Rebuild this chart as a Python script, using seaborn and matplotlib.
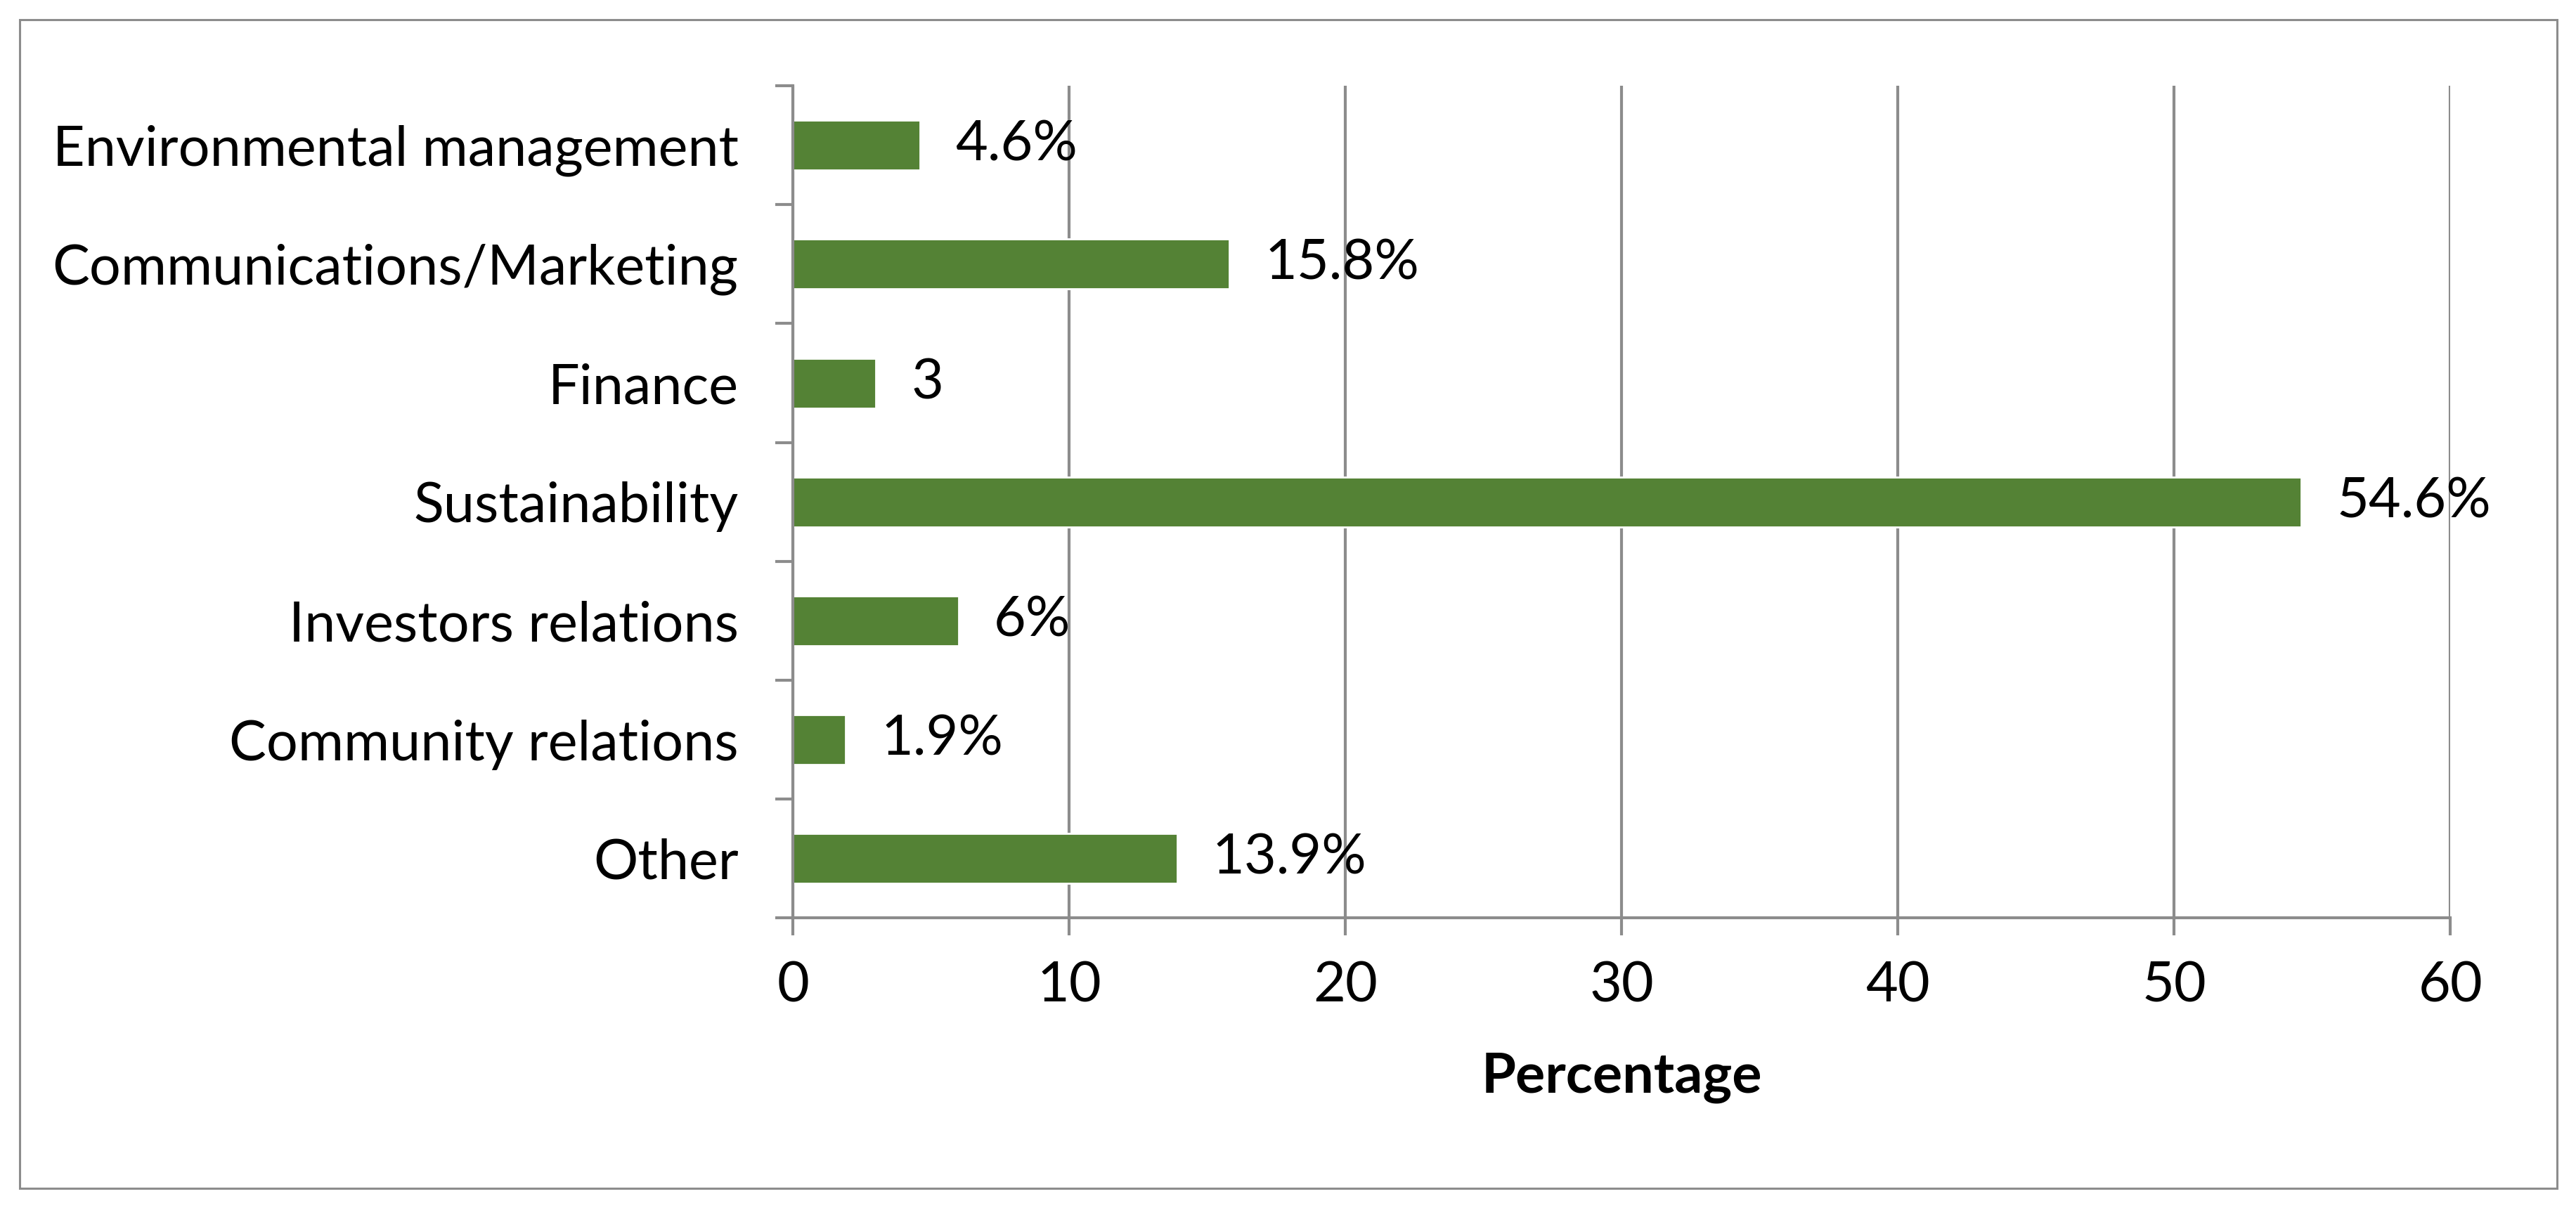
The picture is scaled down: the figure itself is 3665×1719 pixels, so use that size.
import matplotlib
matplotlib.use("Agg")
import matplotlib.pyplot as plt
import seaborn as sns
import pandas as pd
import numpy as np
from matplotlib.patches import Rectangle

# chart data
categories = [
    "Environmental management",
    "Communications/Marketing",
    "Finance",
    "Sustainability",
    "Investors relations",
    "Community relations",
    "Other",
]
values = [4.6, 15.8, 3, 54.6, 6, 1.9, 13.9]
value_labels = ["4.6%", "15.8%", "3", "54.6%", "6%", "1.9%", "13.9%"]
x_ticks = [0, 10, 20, 30, 40, 50, 60]

GRAY = "#8c8c8c"
GREEN = "#548235"
FS = 28.5

sns.set_theme(style="white")
plt.rcParams['font.family'] = ['Lato', 'DejaVu Sans']

df = pd.DataFrame({"Category": categories, "Percentage": values})

fig = plt.figure(figsize=(18.33, 8.595), dpi=200)
ax = fig.add_axes([0.3078, 0.240, 0.951 - 0.3078, 0.929 - 0.240])

sns.barplot(data=df, x="Percentage", y="Category", orient="h",
            color=GREEN, saturation=1, width=0.42, ax=ax)

ax.set_xlim(0, 60)
ax.set_xticks(x_ticks)
ax.grid(axis='x', color=GRAY, lw=1.5)
ax.grid(axis='y', visible=False)
ax.set_axisbelow(True)

for side in ['top', 'right']:
    ax.spines[side].set_visible(False)
for side in ['left', 'bottom']:
    ax.spines[side].set_color(GRAY)
    ax.spines[side].set_linewidth(1.5)

# Excel style ticks between categories
ax.set_yticks(np.arange(-0.5, len(categories), 1), minor=True)
ax.tick_params(axis='y', which='major', length=0, pad=28, labelsize=FS, labelcolor='black')
ax.tick_params(axis='y', which='minor', left=True, length=9, width=1.5, color=GRAY)
ax.tick_params(axis='x', which='major', bottom=True, length=9, width=1.5, color=GRAY,
               pad=13, labelsize=FS, labelcolor='black')

ax.set_ylabel("")
ax.set_xlabel("Percentage", fontsize=FS, fontweight='bold', labelpad=21, color='black')

ax.bar_label(ax.containers[0], labels=value_labels, padding=18, fontsize=FS, color='black')

fig.add_artist(Rectangle((0.0077, 0.0164), 0.9846, 0.9672, transform=fig.transFigure,
                         fill=False, edgecolor=GRAY, lw=1.1))

fig.savefig("out.png", dpi=200)
plt.close(fig)
